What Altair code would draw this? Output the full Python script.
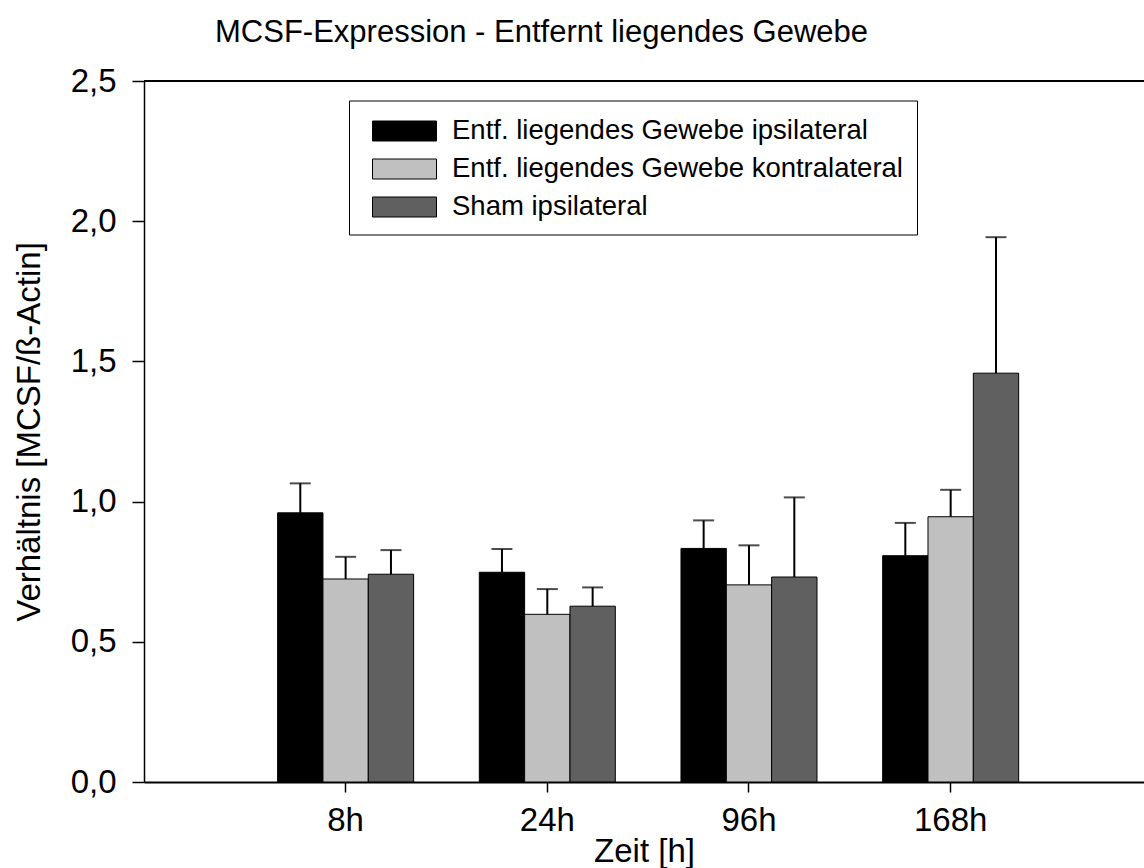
import altair as alt
import pandas as pd

times = ["8h", "24h", "96h", "168h"]
series = [
    "Entf. liegendes Gewebe ipsilateral",
    "Entf. liegendes Gewebe kontralateral",
    "Sham ipsilateral",
]
colors = ["#000000", "#c0c0c0", "#606060"]

ipsi = [0.960, 0.748, 0.833, 0.807]
ipsi_err = [0.105, 0.083, 0.100, 0.117]
kontra = [0.724, 0.598, 0.703, 0.946]
kontra_err = [0.079, 0.090, 0.141, 0.096]
sham = [0.741, 0.627, 0.731, 1.458]
sham_err = [0.086, 0.067, 0.284, 0.485]

y_ticks = [0.0, 0.5, 1.0, 1.5, 2.0, 2.5]

rows = []
for s, vals, errs in zip(series, [ipsi, kontra, sham], [ipsi_err, kontra_err, sham_err]):
    for t, v, e in zip(times, vals, errs):
        rows.append({"Zeit": t, "Gruppe": s, "Wert": v, "Oben": v + e})
df = pd.DataFrame(rows)

FONT = "Liberation Sans"

x_enc = alt.X(
    "Zeit:N",
    sort=times,
    scale=alt.Scale(paddingInner=0.3256, paddingOuter=0.642, align=0.516),
    axis=alt.Axis(
        title="Zeit [h]",
        labelAngle=0,
        labelFontSize=33,
        labelPadding=12,
        titleFontSize=33,
        titlePadding=-2,
        tickSize=10,
        tickWidth=1.5,
        domainWidth=2,
    ),
)
xoff = alt.XOffset("Gruppe:N", sort=series, scale=alt.Scale(paddingInner=0, paddingOuter=0))
y_scale = alt.Scale(domain=[0, 2.5], nice=False)

bars = alt.Chart(df).mark_bar(stroke="#000000", strokeWidth=1).encode(
    x=x_enc,
    xOffset=xoff,
    y=alt.Y(
        "Wert:Q",
        scale=y_scale,
        axis=alt.Axis(
            title="Verhältnis [MCSF/ß-Actin]",
            values=y_ticks,
            labelExpr="replace(format(datum.value, '.1f'), '.', ',')",
            labelFontSize=33,
            labelPadding=16,
            titleFontSize=33,
            titlePadding=24,
            tickSize=12,
            tickWidth=1.5,
            domainWidth=1.5,
        ),
    ),
    color=alt.Color(
        "Gruppe:N",
        sort=series,
        scale=alt.Scale(domain=series, range=colors),
        legend=alt.Legend(
            title=None,
            orient="none",
            legendX=205,
            legendY=19.5,
            direction="vertical",
            symbolType="M-2,-0.625H2V0.625H-2Z",
            symbolSize=1024,
            symbolStrokeColor="#000000",
            symbolStrokeWidth=1,
            symbolOpacity=1,
            symbolOffset=25,
            labelFontSize=27.5,
            labelFont=FONT,
            labelOffset=31,
            labelLimit=700,
            fillColor="#ffffff",
            strokeColor="#000000",
            padding=14,
            rowPadding=8,
        ),
    ),
)

err_rules = alt.Chart(df).mark_rule(color="#000000", strokeWidth=2).encode(
    x=x_enc, xOffset=xoff, y=alt.Y("Wert:Q", scale=y_scale), y2="Oben:Q"
)
caps = alt.Chart(df).mark_tick(color="#000000", size=21, thickness=2).encode(
    x=x_enc, xOffset=xoff, y=alt.Y("Oben:Q", scale=y_scale)
)
top_line = alt.Chart(pd.DataFrame({"y": [2.5]})).mark_rule(color="#000000", strokeWidth=2).encode(
    y=alt.Y("y:Q", scale=y_scale)
)

chart = (
    alt.layer(bars, err_rules, caps, top_line)
    .properties(
        width=1000,
        height=701,
        autosize=alt.AutoSizeParams(type="none"),
        padding={"left": 144, "top": 81, "right": 0, "bottom": 86},
        title=alt.TitleParams(
            "MCSF-Expression - Entfernt liegendes Gewebe",
            font=FONT,
            fontSize=31,
            fontWeight="normal",
            anchor="start",
            frame="group",
            dx=71,
            dy=30,
            offset=22,
            baseline="alphabetic",
            color="#000000",
        ),
    )
    .configure(font=FONT, background="#ffffff")
    .configure_view(strokeWidth=0)
    .configure_axis(
        grid=False,
        domainColor="#000000",
        tickColor="#000000",
        labelColor="#000000",
        titleColor="#000000",
        labelFont=FONT,
        titleFont=FONT,
        titleFontWeight="normal",
    )
)

chart.save("out.html", embed_options={"renderer": "svg", "actions": False})
